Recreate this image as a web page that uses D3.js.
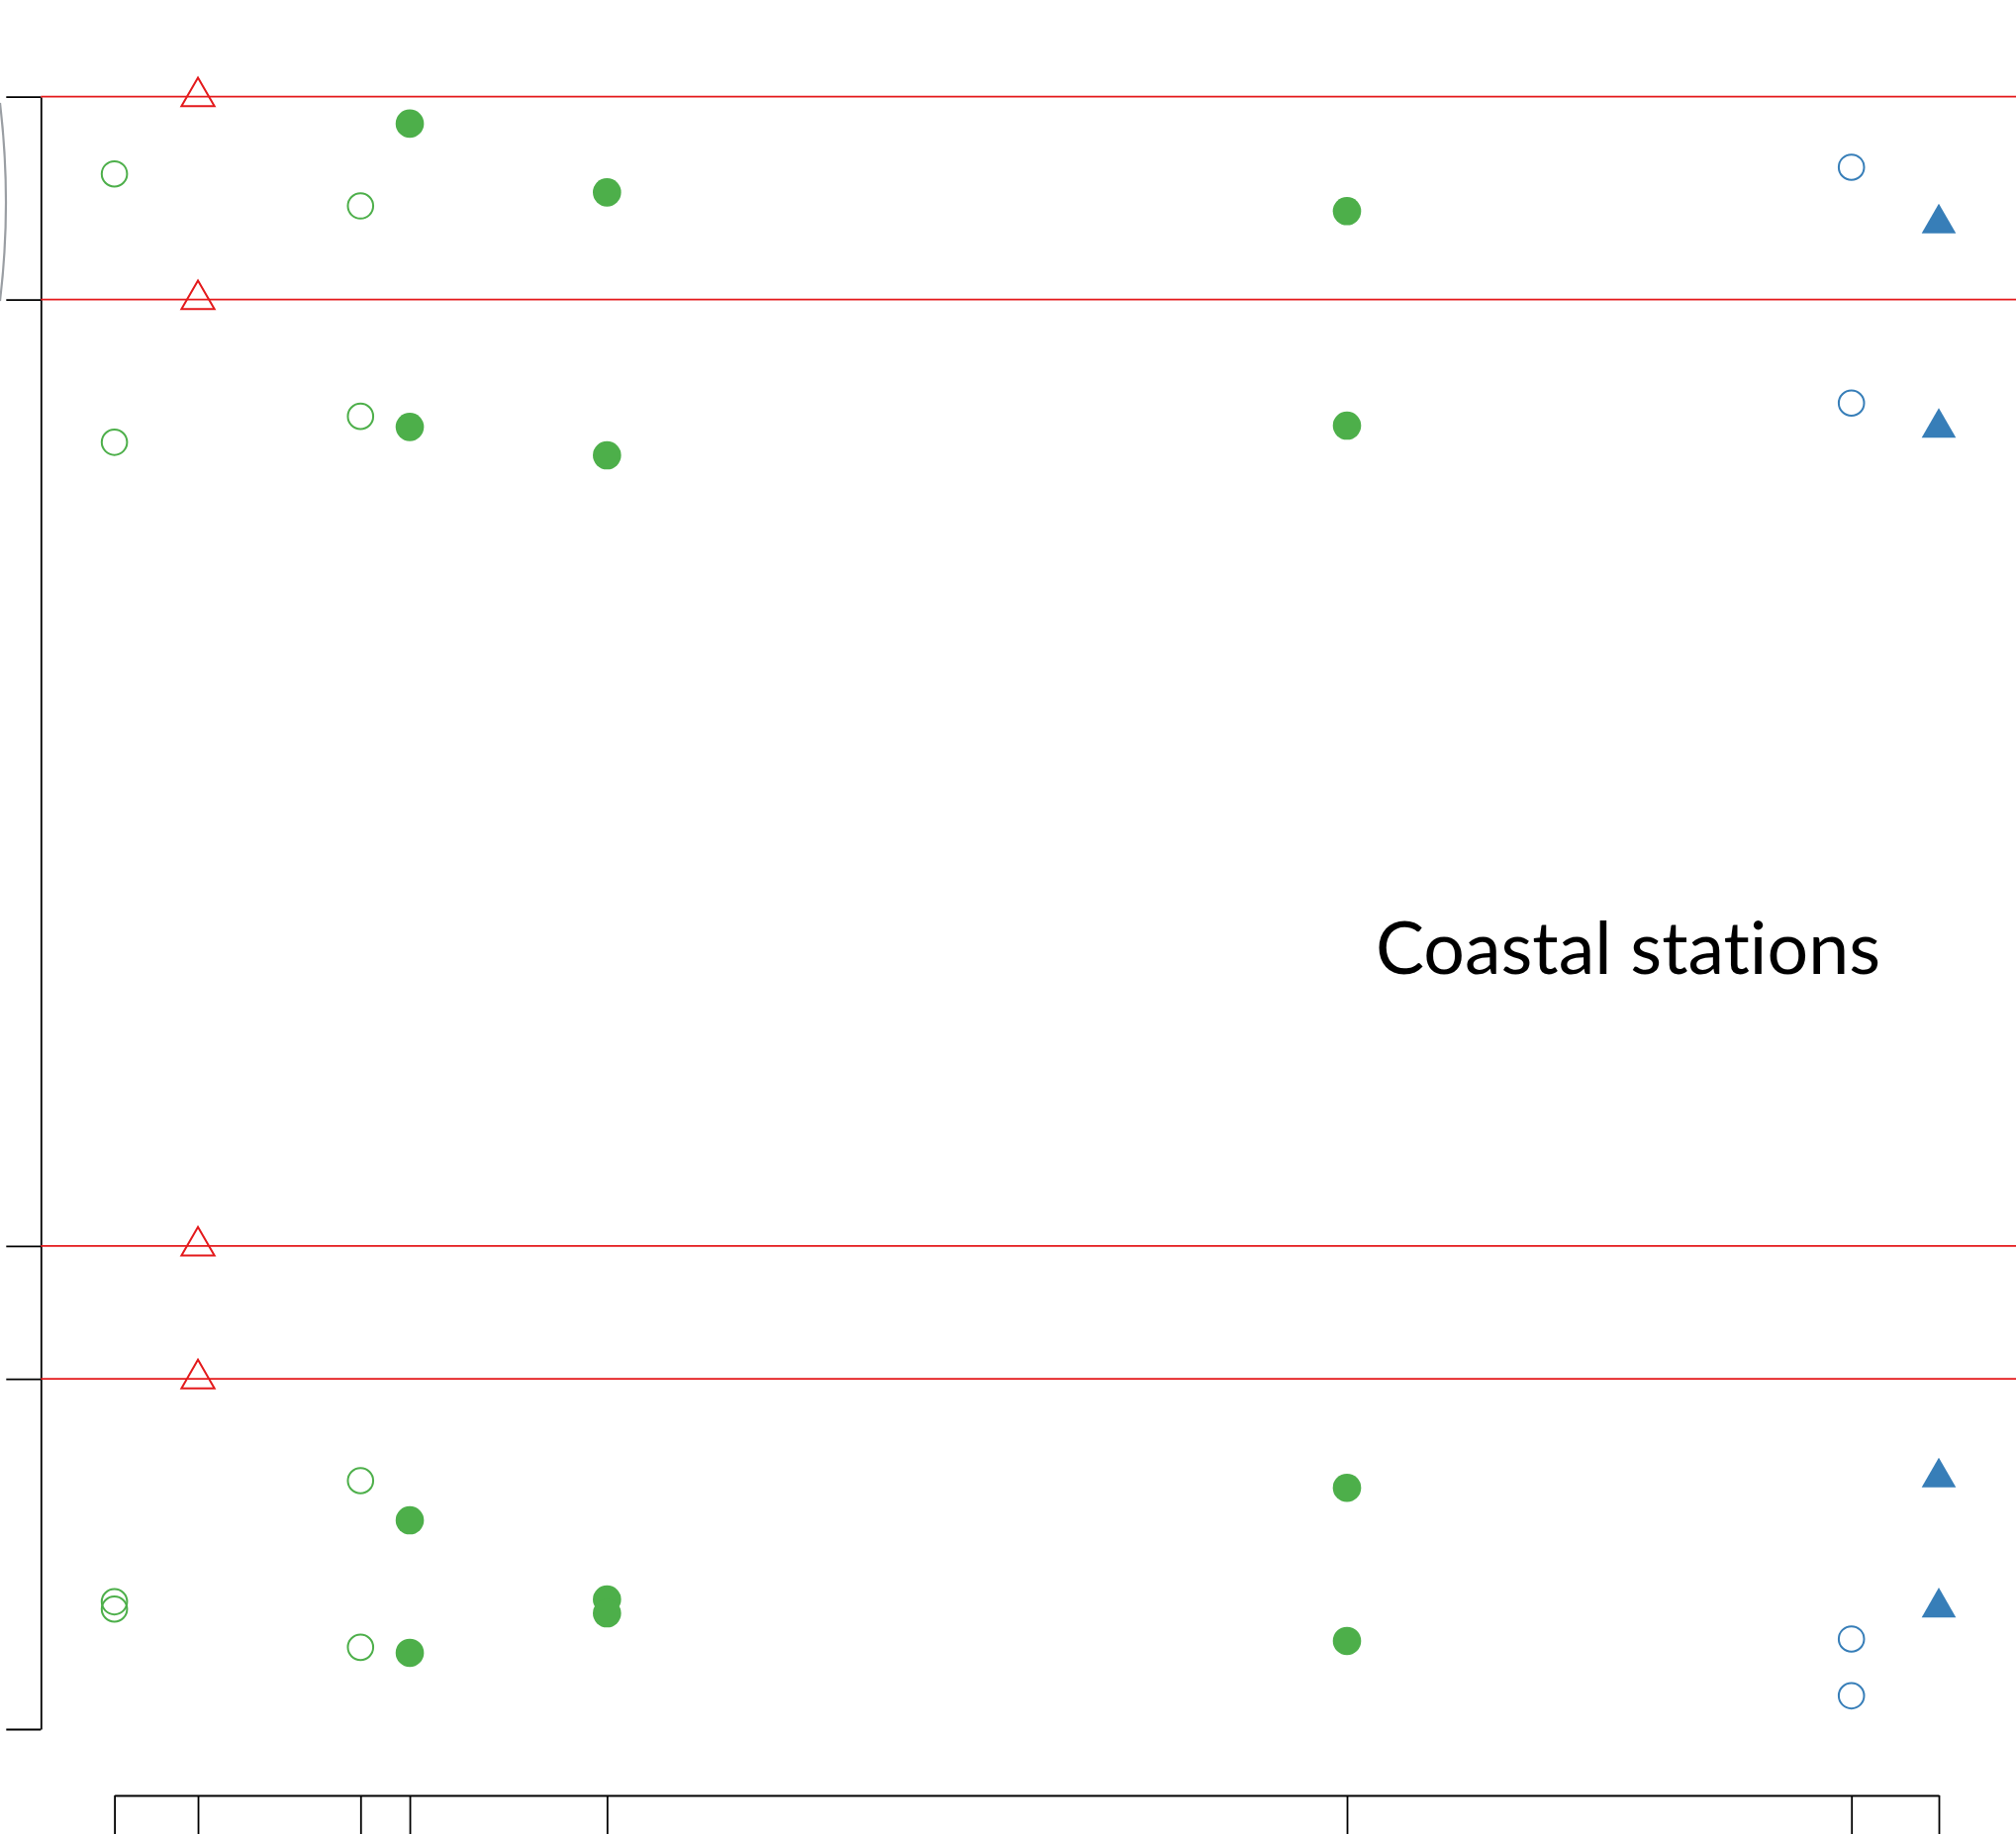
<!DOCTYPE html>
<html>
<head>
<meta charset="utf-8">
<script src="https://cdn.jsdelivr.net/npm/d3@7"></script>
<style>
  html, body { margin: 0; padding: 0; background: #ffffff; }
  svg { display: block; }
  text { font-variant-ligatures: none; font-feature-settings: "liga" 0, "clig" 0; }
</style>
</head>
<body>
<script>
// Station positions along the transect (arbitrary units, 0–100)
const stationPositions = [0, 4.58, 13.49, 16.19, 27.0, 67.56, 95.21, 100];

// Reference levels (drawn as red lines and red open triangles)
const referenceLevels = [100, 87.57, 29.59, 21.46];
const referenceStation = 4.58;

// Left-axis tick values
const yTickValues = [100, 87.57, 29.59, 21.46, 0];

// Green open circles
const greenOpen = [
  { x: 0, y: 95.27 }, { x: 0, y: 78.83 }, { x: 0, y: 7.80 }, { x: 0, y: 7.35 },
  { x: 13.49, y: 93.31 }, { x: 13.49, y: 80.42 }, { x: 13.49, y: 15.22 }, { x: 13.49, y: 5.01 }
];

// Green filled circles
const greenFilled = [
  { x: 16.19, y: 98.35 }, { x: 16.19, y: 79.77 }, { x: 16.19, y: 12.79 }, { x: 16.19, y: 4.67 },
  { x: 27.0, y: 94.14 }, { x: 27.0, y: 78.03 }, { x: 27.0, y: 7.94 }, { x: 27.0, y: 7.09 },
  { x: 67.56, y: 92.99 }, { x: 67.56, y: 79.85 }, { x: 67.56, y: 14.78 }, { x: 67.56, y: 5.40 }
];

// Blue open circles
const blueOpen = [
  { x: 95.21, y: 95.68 }, { x: 95.21, y: 81.23 }, { x: 95.21, y: 5.52 }, { x: 95.21, y: 2.04 }
];

// Blue filled triangles
const blueTriangles = [
  { x: 100, y: 92.23 }, { x: 100, y: 79.72 }, { x: 100, y: 15.41 }, { x: 100, y: 7.45 }
];

const annotation = "Coastal stations";

const W = 2037, H = 1853;
const RED = "#e41a1c", GREEN = "#4daf4a", BLUE = "#377eb8";

const svg = d3.select("body").append("svg")
  .attr("width", W).attr("height", H);

const x = d3.scaleLinear().domain([0, 100]).range([115.6, 1959]);
const y = d3.scaleLinear().domain([0, 100]).range([1747, 97.7]);

// Partial bracket at the far left
svg.append("path")
  .attr("d", "M0,104 Q12,205 0,304")
  .attr("fill", "none")
  .attr("stroke", "#9a9ea3")
  .attr("stroke-width", 2.2);

// Left axis
const yAxis = svg.append("g")
  .attr("transform", "translate(41.3,0)")
  .call(d3.axisLeft(y).tickValues(yTickValues).tickSizeInner(35).tickSizeOuter(0).tickFormat(""));
yAxis.selectAll("path, line").attr("stroke", "#000").attr("stroke-width", 1.8);

// Bottom axis
const xAxis = svg.append("g")
  .attr("transform", "translate(0,1814)")
  .call(d3.axisBottom(x).tickValues(stationPositions).tickSizeInner(45).tickSizeOuter(0).tickFormat(""));
xAxis.selectAll("path, line").attr("stroke", "#000").attr("stroke-width", 1.8);

// Reference lines
svg.append("g").selectAll("line")
  .data(referenceLevels)
  .join("line")
  .attr("x1", 41.3).attr("x2", W)
  .attr("y1", d => y(d)).attr("y2", d => y(d))
  .attr("stroke", RED).attr("stroke-width", 1.8);

const circleSym = r => d3.symbol().type(d3.symbolCircle).size(Math.PI * r * r)();
const triSym = s => d3.symbol().type(d3.symbolTriangle).size(s)();

// Red open triangles on the reference levels
svg.append("g").selectAll("path")
  .data(referenceLevels)
  .join("path")
  .attr("d", triSym(480))
  .attr("transform", d => `translate(${x(referenceStation)},${y(d)})`)
  .attr("fill", "none").attr("stroke", RED).attr("stroke-width", 2);

// Green open circles
svg.append("g").selectAll("path")
  .data(greenOpen)
  .join("path")
  .attr("d", circleSym(12.8))
  .attr("transform", d => `translate(${x(d.x)},${y(d.y)})`)
  .attr("fill", "none").attr("stroke", GREEN).attr("stroke-width", 2);

// Green filled circles
svg.append("g").selectAll("path")
  .data(greenFilled)
  .join("path")
  .attr("d", circleSym(14.3))
  .attr("transform", d => `translate(${x(d.x)},${y(d.y)})`)
  .attr("fill", GREEN);

// Blue open circles
svg.append("g").selectAll("path")
  .data(blueOpen)
  .join("path")
  .attr("d", circleSym(12.8))
  .attr("transform", d => `translate(${x(d.x)},${y(d.y)})`)
  .attr("fill", "none").attr("stroke", BLUE).attr("stroke-width", 2);

// Blue filled triangles
svg.append("g").selectAll("path")
  .data(blueTriangles)
  .join("path")
  .attr("d", triSym(520))
  .attr("transform", d => `translate(${x(d.x)},${y(d.y)})`)
  .attr("fill", BLUE);

// Annotation text, sized to its target width
const label = svg.append("text")
  .attr("x", 1390).attr("y", 984)
  .attr("font-family", "'Gill Sans', 'Gill Sans MT', Lato, 'Open Sans', sans-serif")
  .attr("font-size", 88)
  .attr("fill", "#000")
  .text(annotation);
const w = label.node().getComputedTextLength();
label.attr("font-size", 88 * 510 / w);
</script>
</body>
</html>
